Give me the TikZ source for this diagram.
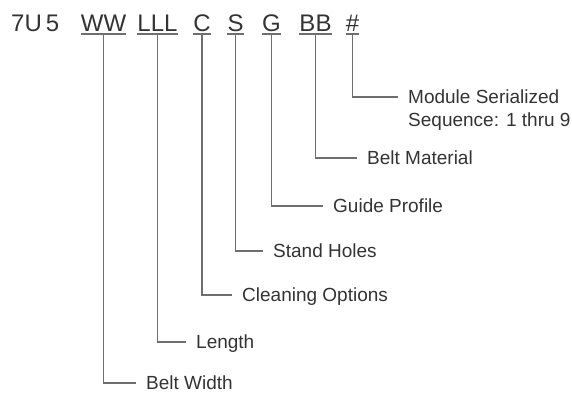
\documentclass[tikz,border=0pt]{standalone}
\usepackage{fontspec}
\setmainfont{Liberation Sans}
\usetikzlibrary{positioning}
\definecolor{inkgray}{HTML}{333333}
\definecolor{leadgray}{HTML}{6E6E6E}
\tikzset{
  code/.style={font=\fontsize{24}{28}\selectfont, text=inkgray, inner xsep=0pt,
    inner ysep=2.5pt, text depth=0pt, anchor=south},
  lbl/.style={font=\fontsize{19}{22}\selectfont, text=inkgray, inner xsep=10pt,
    inner ysep=0pt, text height=13.6pt, text depth=0pt, anchor=west},
  lead/.style={draw=leadgray, line width=1.8pt},
  uline/.style={draw=leadgray, line width=2pt}
}
\begin{document}
\begin{tikzpicture}[x=1pt,y=-1pt]
\useasboundingbox (0,0) rectangle (572,394);
% the code line
\node[code, anchor=south west] (pfx) at (11,34) {7U\,5};
\node[code] (ww) at (103.5,34) {WW};
\node[code] (lll) at (157.5,34) {LLL};
\node[code] (c) at (202,34) {C};
\node[code] (s) at (235.5,34) {S};
\node[code] (g) at (271.5,34) {G};
\node[code] (bb) at (315.5,34) {BB};
\node[code] (num) at (352.5,34) {\#};
\foreach \n in {ww,lll,c,s,g,bb,num}
  \draw[uline] (\n.south west) -- (\n.south east);
% labels
\node[lbl] (msa) at (398,97) {Module Serialized};
\node[lbl, below=8.4pt of msa.south west, anchor=north west] (msb) {Sequence: 1 thru 9};
\node[lbl] (bm) at (357,158) {Belt Material};
\node[lbl] (gp) at (323,206) {Guide Profile};
\node[lbl] (sh) at (263,251) {Stand Holes};
\node[lbl] (co) at (232,295) {Cleaning Options};
\node[lbl] (len) at (186,342) {Length};
\node[lbl] (bw) at (136,383) {Belt Width};
% leads
\draw[lead] (num.south) |- (msa.west);
\draw[lead] (bb.south) |- (bm.west);
\draw[lead] (g.south) |- (gp.west);
\draw[lead] (s.south) |- (sh.west);
\draw[lead] (c.south) |- (co.west);
\draw[lead] (lll.south) |- (len.west);
\draw[lead] (ww.south) |- (bw.west);
\end{tikzpicture}
\end{document}
